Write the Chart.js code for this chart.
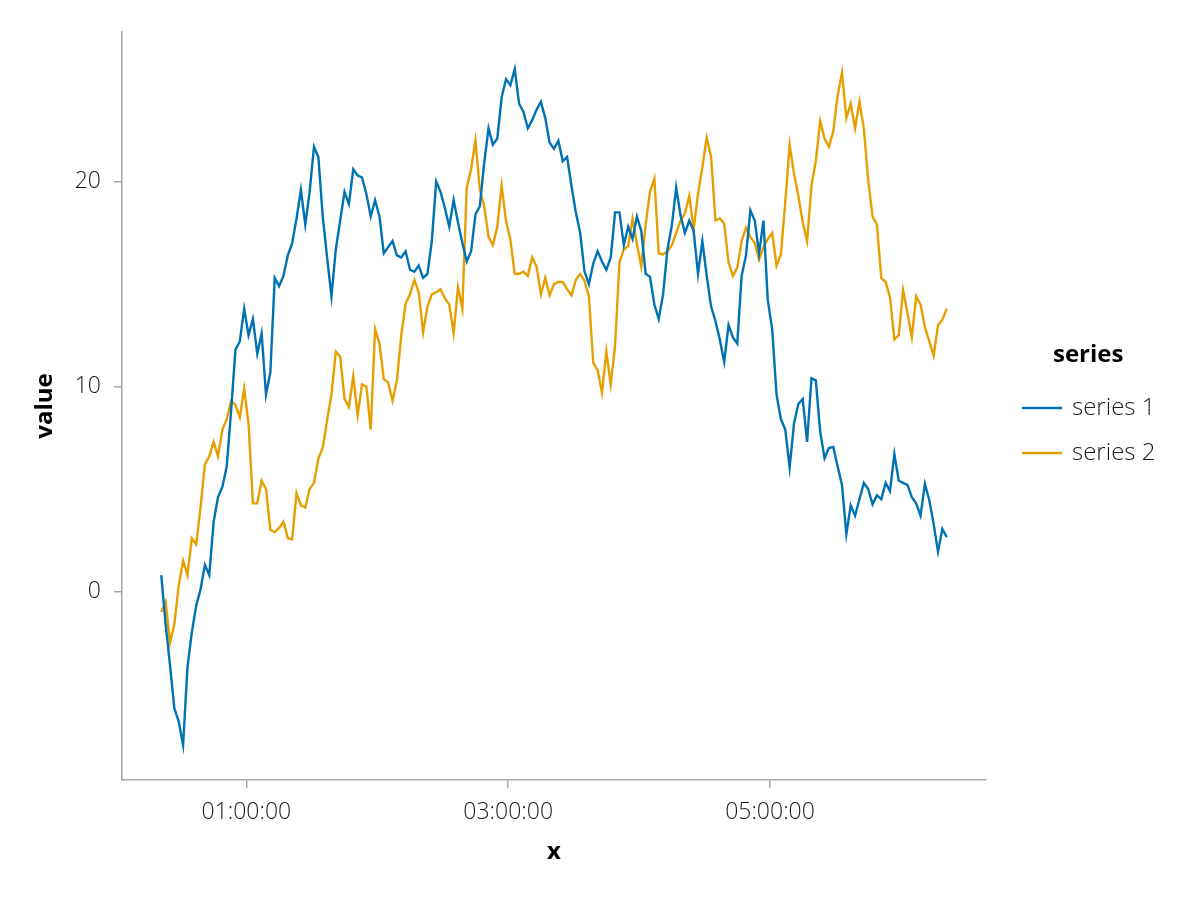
<!DOCTYPE html>
<html>
<head>
<meta charset="utf-8">
<title>series</title>
<script src="https://cdn.jsdelivr.net/npm/chart.js@4.4.1/dist/chart.umd.min.js"></script>
<style>
  html, body { margin: 0; padding: 0; background: #fff; }
  canvas { display: block; }
</style>
</head>
<body>
<canvas id="chart" width="1200" height="900"></canvas>
<script>
// time in minutes after midnight
const times = [
  21,23,25,27,29,31,33,35,37,39,
  41,43,45,47,49,51,53,55,57,59,
  61,63,65,67,69,71,73,75,77,79,
  81,83,85,87,89,91,93,95,97,99,
  101,103,105,107,109,111,113,115,117,119,
  121,123,125,127,129,131,133,135,137,139,
  141,143,145,147,149,151,153,155,157,159,
  161,163,165,167,169,171,173,175,177,179,
  181,183,185,187,189,191,193,195,197,199,
  201,203,205,207,209,211,213,215,217,219,
  221,223,225,227,229,231,233,235,237,239,
  241,243,245,247,249,251,253,255,257,259,
  261,263,265,267,269,271,273,275,277,279,
  281,283,285,287,289,291,293,295,297,299,
  301,303,305,307,309,311,313,315,317,319,
  321,323,325,327,329,331,333,335,337,339,
  341,343,345,347,349,351,353,355,357,359,
  361,363,365,367,369,371,373,375,377,379,
  381
];

const series1 = [
  0.8,-1.6,-3.6,-5.7,-6.35,-7.5,-3.7,-2.0,-0.7,0.1,
  1.3,0.8,3.4,4.6,5.1,6.1,8.8,11.8,12.2,13.8,
  12.5,13.3,11.6,12.6,9.6,10.7,15.3,14.9,15.4,16.4,
  17.0,18.2,19.6,17.9,19.5,21.7,21.2,18.3,16.3,14.4,
  16.7,18.1,19.5,18.9,20.6,20.3,20.2,19.4,18.3,19.1,
  18.3,16.5,16.8,17.1,16.4,16.3,16.6,15.7,15.6,15.9,
  15.3,15.5,17.1,20.0,19.5,18.7,17.8,19.1,18.0,17.0,
  16.1,16.6,18.4,18.8,20.9,22.6,21.8,22.1,24.1,25.0,
  24.7,25.5,23.8,23.4,22.6,23.0,23.5,23.9,23.1,21.9,
  21.6,22.0,21.0,21.2,19.8,18.5,17.5,15.6,15.0,16.0,
  16.6,16.1,15.7,16.3,18.5,18.5,16.9,17.8,17.2,18.3,
  17.6,15.5,15.35,14.0,13.3,14.5,16.7,17.85,19.7,18.35,
  17.5,18.1,17.6,15.5,17.1,15.4,13.9,13.2,12.3,11.2,
  13.0,12.4,12.1,15.4,16.4,18.6,18.1,16.5,18.1,14.2,
  12.8,9.6,8.4,7.9,6.05,8.2,9.15,9.4,7.3,10.4,
  10.3,7.8,6.5,7.0,7.05,6.1,5.2,2.8,4.2,3.7,
  4.5,5.3,5.0,4.25,4.7,4.5,5.3,4.9,6.7,5.4,
  5.3,5.2,4.6,4.3,3.7,5.25,4.45,3.3,1.95,3.05,
  2.65
];

const series2 = [
  -1.0,-0.5,-2.5,-1.6,0.3,1.5,0.8,2.6,2.3,4.1,
  6.2,6.6,7.3,6.6,7.9,8.4,9.3,9.1,8.5,9.9,
  8.2,4.3,4.3,5.4,5.0,3.0,2.9,3.1,3.4,2.6,
  2.55,4.8,4.2,4.1,5.0,5.3,6.5,7.0,8.35,9.6,
  11.7,11.45,9.4,9.0,10.5,8.6,10.1,10.0,7.9,12.8,
  12.1,10.35,10.2,9.3,10.3,12.5,14.05,14.5,15.2,14.6,
  12.65,13.9,14.5,14.6,14.75,14.3,14.0,12.6,14.85,13.8,
  19.7,20.6,22.0,19.6,18.8,17.3,16.9,17.8,19.8,18.1,
  17.15,15.5,15.5,15.6,15.4,16.3,15.85,14.5,15.3,14.45,
  15.0,15.1,15.1,14.75,14.45,15.2,15.5,15.15,14.4,11.15,
  10.8,9.7,11.7,10.1,12.0,16.05,16.7,16.85,18.2,16.95,
  15.85,17.9,19.5,20.15,16.5,16.45,16.6,16.9,17.5,18.1,
  18.45,19.3,17.65,19.4,20.7,22.15,21.2,18.1,18.2,17.95,
  16.05,15.4,15.8,17.1,17.75,17.3,17.0,16.2,16.8,17.2,
  17.5,15.9,16.45,19.0,21.8,20.4,19.3,18.0,17.1,19.8,
  21.0,22.95,22.1,21.7,22.45,24.2,25.3,23.1,23.8,22.6,
  23.9,22.6,20.1,18.3,17.9,15.3,15.1,14.35,12.3,12.5,
  14.7,13.6,12.4,14.4,14.0,12.9,12.2,11.5,13.0,13.25,
  13.8
];

const seriesNames = ['series 1', 'series 2'];
const seriesColors = ['#0072B2', '#E69F00'];
const legendTitle = 'series';
const xTicks = [60, 180, 300];
const yTicks = [0, 10, 20];

const FONT = "'Open Sans', 'Noto Sans', sans-serif";
const AXIS_GREY = '#a6a6a6';

function fmtTime(min) {
  const h = Math.floor(min / 60);
  const m = Math.round(min % 60);
  return String(h).padStart(2, '0') + ':' + String(m).padStart(2, '0') + ':00';
}

// legend drawn on the right, like the reference
const sideLegend = {
  id: 'sideLegend',
  afterDraw(chart) {
    const c = chart.ctx;
    c.save();
    c.textBaseline = 'middle';
    c.textAlign = 'left';
    c.fillStyle = '#000';
    c.font = 'bold 24px ' + FONT;
    c.fillText(legendTitle, 1053, 355);
    chart.data.datasets.forEach((ds, i) => {
      const y = 408 + i * 45;
      c.strokeStyle = ds.borderColor;
      c.lineWidth = 2.4;
      c.beginPath();
      c.moveTo(1022, y);
      c.lineTo(1062, y);
      c.stroke();
      c.font = '300 24px ' + FONT;
      c.fillStyle = '#1a1a1a';
      c.fillText(ds.label, 1072, y);
    });
    c.restore();
  }
};

const ctx = document.getElementById('chart').getContext('2d');
const chart = new Chart(ctx, {
  type: 'line',
  data: {
    datasets: [series1, series2].map((vals, k) => ({
      label: seriesNames[k],
      data: vals.map((v, i) => ({ x: times[i], y: v })),
      borderColor: seriesColors[k],
      backgroundColor: seriesColors[k],
      borderWidth: 2.4,
      pointRadius: 0,
      tension: 0,
      fill: false
    }))
  },
  options: {
    responsive: false,
    animation: false,
    layout: { padding: { left: 0, right: 214, top: 32, bottom: 0 } },
    plugins: {
      legend: { display: false },
      tooltip: { enabled: false }
    },
    scales: {
      x: {
        type: 'linear',
        min: 3,
        max: 399,
        afterBuildTicks: s => { s.ticks = xTicks.map(v => ({ value: v })); },
        afterFit: s => { s.height = 120; },
        grid: { drawOnChartArea: false, drawTicks: true, tickLength: 8, color: AXIS_GREY, lineWidth: 1.5 },
        border: { display: true, color: AXIS_GREY, width: 1.5 },
        ticks: {
          callback: v => fmtTime(v),
          color: '#1a1a1a',
          padding: 11,
          maxRotation: 0,
          font: { family: FONT, size: 23, weight: '300' }
        },
        title: {
          display: true,
          text: 'x',
          color: '#000',
          font: { family: FONT, size: 24, weight: 'bold' },
          padding: { top: 0, bottom: 33 }
        }
      },
      y: {
        min: -9.2,
        max: 27.3,
        afterBuildTicks: s => { s.ticks = yTicks.map(v => ({ value: v })); },
        afterFit: s => { s.width = 122; },
        grid: { drawOnChartArea: false, drawTicks: true, tickLength: 8, color: AXIS_GREY, lineWidth: 1.5 },
        border: { display: true, color: AXIS_GREY, width: 1.5 },
        ticks: {
          color: '#1a1a1a',
          padding: 13,
          font: { family: FONT, size: 23, weight: '300' }
        },
        title: {
          display: true,
          text: 'value',
          color: '#000',
          font: { family: FONT, size: 24, weight: 'bold' },
          padding: { top: 31, bottom: 0 }
        }
      }
    }
  },
  plugins: [sideLegend]
});
</script>
</body>
</html>
